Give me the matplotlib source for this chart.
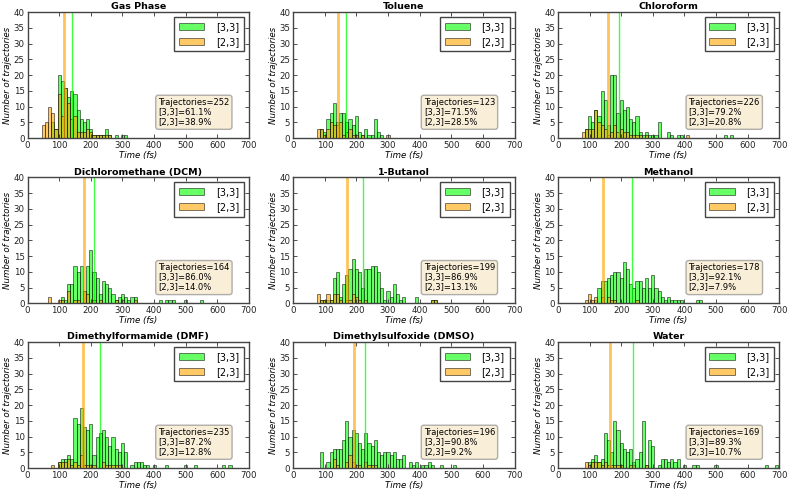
import numpy as np
import matplotlib
matplotlib.use("Agg")
import matplotlib.pyplot as plt

titles = ["Gas Phase", "Toluene", "Chloroform",
          "Dichloromethane (DCM)", "1-Butanol", "Methanol",
          "Dimethylformamide (DMF)", "Dimethylsulfoxide (DMSO)", "Water"]

totals = [252, 123, 226, 164, 199, 178, 235, 196, 169]
pct33 = ["61.1", "71.5", "79.2", "86.0", "86.9", "92.1", "87.2", "90.8", "89.3"]
pct23 = ["38.9", "28.5", "20.8", "14.0", "13.1", "7.9", "12.8", "9.2", "10.7"]

mean33 = [140, 166, 192, 210, 221, 233, 228, 227, 236]
mean23 = [115, 143, 159, 178, 169, 141, 176, 192, 164]

# histogram bin centres (fs) and counts
gas_g_t = [80, 90, 100, 110, 120, 130, 140, 150, 160, 170, 180, 190, 200, 210, 220, 230, 240, 250, 260, 280, 300, 310]
gas_g_n = [5, 3, 20, 18, 16, 13, 15, 14, 9, 6, 5, 6, 3, 1, 1, 1, 1, 3, 1, 1, 1, 1]
gas_o_t = [50, 60, 70, 80, 90, 100, 110, 120, 130, 140, 150, 160, 170, 180, 190, 200, 210, 220, 230, 240, 250, 260]
gas_o_n = [4, 5, 10, 8, 3, 14, 7, 16, 11, 6, 7, 2, 2, 2, 3, 2, 1, 1, 1, 1, 1, 1]

tol_g_t = [90, 100, 110, 120, 130, 140, 150, 160, 170, 180, 190, 200, 210, 220, 230, 240, 250, 260, 270, 280]
tol_g_n = [3, 2, 6, 8, 11, 5, 8, 8, 5, 6, 4, 7, 2, 1, 3, 1, 1, 6, 2, 1]
tol_o_t = [80, 90, 100, 110, 120, 130, 140, 150, 160, 170, 180, 190, 200, 220, 300]
tol_o_n = [3, 3, 1, 3, 5, 4, 4, 5, 1, 2, 3, 1, 1, 1, 1]

chl_g_t = [90, 100, 110, 120, 130, 140, 150, 160, 170, 180, 190, 200, 210, 220, 230, 240, 250, 260, 270, 280, 290, 300, 310, 320, 350, 360, 380, 390, 530, 550]
chl_g_n = [3, 7, 5, 9, 7, 15, 12, 4, 20, 20, 8, 12, 9, 10, 6, 5, 7, 2, 1, 2, 1, 1, 1, 5, 2, 1, 1, 1, 1, 1]
chl_o_t = [80, 90, 100, 110, 120, 130, 140, 150, 160, 170, 180, 190, 200, 210, 220, 230, 240, 250, 260, 280, 410]
chl_o_n = [2, 3, 3, 3, 9, 5, 4, 3, 1, 2, 4, 2, 3, 2, 2, 1, 1, 1, 1, 1, 1]

dcm_g_t = [110, 120, 130, 140, 150, 160, 170, 180, 190, 200, 210, 220, 230, 240, 250, 260, 270, 280, 290, 300, 310, 320, 330, 340, 420, 440, 450, 460, 500, 550]
dcm_g_n = [2, 1, 6, 6, 12, 10, 12, 4, 12, 17, 10, 8, 3, 7, 6, 5, 3, 1, 2, 3, 2, 1, 2, 2, 1, 1, 1, 1, 1, 1]
dcm_o_t = [70, 100, 110, 130, 150, 160, 180, 190, 210, 230, 280, 300, 340]
dcm_o_n = [2, 1, 1, 4, 1, 1, 4, 3, 1, 1, 1, 1, 1]

but_g_t = [90, 100, 110, 120, 130, 140, 150, 160, 170, 180, 190, 200, 210, 220, 230, 240, 250, 260, 270, 280, 290, 300, 310, 320, 330, 340, 350, 390, 440, 450]
but_g_n = [1, 1, 1, 1, 8, 10, 2, 6, 9, 11, 14, 11, 10, 5, 11, 11, 12, 12, 10, 5, 1, 4, 2, 6, 3, 1, 2, 2, 1, 1]
but_o_t = [80, 90, 100, 110, 120, 130, 140, 150, 170, 180, 190, 200, 210, 230, 440, 450]
but_o_n = [3, 1, 1, 3, 1, 3, 3, 1, 1, 1, 3, 2, 1, 1, 1, 1]

met_g_t = [120, 130, 140, 150, 160, 170, 180, 190, 200, 210, 220, 230, 240, 250, 260, 270, 280, 290, 300, 310, 320, 330, 340, 350, 360, 370, 380, 390, 440, 450]
met_g_n = [1, 5, 7, 7, 8, 9, 10, 10, 8, 13, 11, 6, 5, 7, 7, 5, 8, 5, 9, 5, 4, 2, 1, 2, 1, 1, 1, 1, 1, 1]
met_o_t = [90, 100, 110, 120, 140, 160, 170, 180, 250]
met_o_n = [1, 3, 1, 2, 2, 2, 1, 1, 1]

dmf_g_t = [100, 110, 120, 130, 140, 150, 160, 170, 180, 190, 200, 210, 220, 230, 240, 250, 260, 270, 280, 290, 300, 310, 330, 340, 350, 360, 370, 380, 400, 440, 500, 530, 620, 640]
dmf_g_n = [2, 3, 3, 4, 3, 16, 14, 19, 13, 12, 14, 4, 10, 11, 12, 10, 7, 10, 6, 5, 8, 5, 1, 2, 2, 2, 1, 1, 1, 1, 1, 1, 1, 1]
dmf_o_t = [80, 100, 110, 120, 130, 140, 150, 160, 170, 180, 190, 200, 210, 240, 250, 260, 270, 280, 290]
dmf_o_n = [1, 2, 2, 2, 3, 1, 2, 1, 4, 1, 1, 1, 1, 2, 1, 1, 1, 1, 1]

dms_g_t = [90, 110, 120, 130, 140, 150, 160, 170, 180, 190, 200, 210, 220, 230, 240, 250, 260, 270, 280, 290, 300, 310, 320, 330, 340, 350, 370, 380, 390, 410, 420, 430, 440, 470, 510]
dms_g_n = [5, 2, 5, 6, 6, 6, 9, 15, 10, 12, 11, 8, 6, 11, 8, 7, 9, 5, 4, 5, 5, 4, 5, 3, 3, 4, 2, 1, 2, 1, 1, 2, 1, 1, 1]
dms_o_t = [130, 140, 170, 180, 190, 200, 210, 230, 240, 250, 260]
dms_o_n = [3, 1, 2, 4, 2, 1, 1, 2, 1, 1, 1]

wat_g_t = [100, 110, 120, 130, 140, 150, 160, 170, 180, 190, 200, 210, 220, 230, 240, 250, 260, 270, 280, 290, 300, 320, 330, 340, 350, 360, 370, 380, 400, 430, 440, 500, 660, 690]
wat_g_n = [2, 3, 4, 2, 3, 11, 9, 5, 15, 12, 8, 6, 5, 6, 2, 3, 5, 15, 1, 9, 7, 1, 3, 3, 2, 3, 2, 3, 1, 1, 1, 1, 1, 1]
wat_o_t = [90, 100, 110, 120, 130, 140, 150, 160, 170, 180, 190, 200, 230, 240, 280]
wat_o_n = [2, 1, 2, 2, 2, 1, 2, 1, 1, 1, 1, 1, 1, 1, 1]

green_t = [gas_g_t, tol_g_t, chl_g_t, dcm_g_t, but_g_t, met_g_t, dmf_g_t, dms_g_t, wat_g_t]
green_n = [gas_g_n, tol_g_n, chl_g_n, dcm_g_n, but_g_n, met_g_n, dmf_g_n, dms_g_n, wat_g_n]
orange_t = [gas_o_t, tol_o_t, chl_o_t, dcm_o_t, but_o_t, met_o_t, dmf_o_t, dms_o_t, wat_o_t]
orange_n = [gas_o_n, tol_o_n, chl_o_n, dcm_o_n, but_o_n, met_o_n, dmf_o_n, dms_o_n, wat_o_n]

plt.rcParams['font.family'] = ['DejaVu Sans']
fig = plt.figure(figsize=(7.88, 4.94), dpi=100)

lefts = [0.035, 0.372, 0.708]
bottoms = [0.7206, 0.386, 0.0526]
W, H = 0.281, 0.255

edges = np.arange(-5, 715, 10)
for i in range(9):
    r, c = divmod(i, 3)
    ax = fig.add_axes([lefts[c], bottoms[r], W, H])
    ax.hist(green_t[i], bins=edges, weights=green_n[i], color='lime', alpha=0.6,
            edgecolor='black', linewidth=0.6, label='[3,3]')
    ax.hist(orange_t[i], bins=edges, weights=orange_n[i], color='orange', alpha=0.6,
            edgecolor='black', linewidth=0.6, label='[2,3]')
    ax.axvline(mean33[i], color='lime', lw=1.0, alpha=0.75)
    ax.axvline(mean23[i], color='orange', lw=2.0, alpha=0.65)
    ax.set_xlim(0, 700)
    ax.set_ylim(0, 40)
    ax.set_xticks(np.arange(0, 701, 100))
    ax.set_yticks(np.arange(0, 41, 5))
    ax.tick_params(direction='in', top=True, right=True, labelsize=6.2,
                   length=3, width=0.6, colors='#333333', labelcolor='#222222', pad=2)
    for s in ax.spines.values():
        s.set_color('#444444')
        s.set_linewidth(1.0)
    ax.set_title(titles[i], fontsize=6.8, fontweight='bold', pad=2)
    ax.set_xlabel('Time (fs)', fontsize=6.2, style='italic', labelpad=1)
    ax.set_ylabel('Number of trajectories', fontsize=6.2, style='italic', labelpad=1)
    leg = ax.legend(loc='upper right', fontsize=7, fancybox=False, framealpha=1,
                    borderpad=0.5, handlelength=2.6, handletextpad=1.2, labelspacing=0.5)
    leg.get_frame().set_edgecolor('#444444')
    leg.get_frame().set_linewidth(1.0)
    txt = "Trajectories=%d\n[3,3]=%s%%\n[2,3]=%s%%" % (totals[i], pct33[i], pct23[i])
    ax.text(0.59, 0.32, txt, transform=ax.transAxes, fontsize=6.0, va='top', ha='left',
            linespacing=1.15,
            bbox=dict(boxstyle='round,pad=0.3', facecolor='wheat', alpha=0.5,
                      edgecolor='#666666'))

fig.savefig('out.png', dpi=100)
